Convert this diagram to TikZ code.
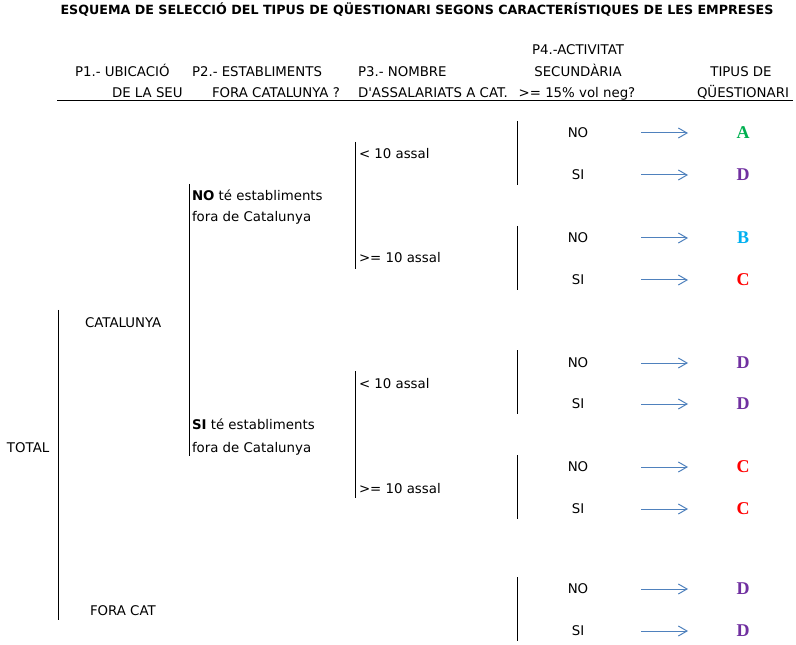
\documentclass[tikz,border=0pt]{standalone}
\usepackage{fontspec}
\newfontfamily\verdfont{DejaVu Sans}
\newfontfamily\tipusfont{Liberation Serif}
\usetikzlibrary{arrows.meta}

\newlength{\du}
\setlength{\du}{0.75pt}

\definecolor{dialinecolor}{rgb}{0.000000, 0.000000, 0.000000}
\definecolor{fletxacolor}{rgb}{0.310000, 0.506000, 0.741000}
\definecolor{tipusAcolor}{rgb}{0.000000, 0.690000, 0.314000}
\definecolor{tipusBcolor}{rgb}{0.000000, 0.690000, 0.941000}
\definecolor{tipusCcolor}{rgb}{1.000000, 0.000000, 0.000000}
\definecolor{tipusDcolor}{rgb}{0.439000, 0.188000, 0.627000}

\tikzset{
  txt/.style={anchor=base west,inner sep=0pt,outer sep=0pt,color=dialinecolor,font=\verdfont\fontsize{10}{12}\selectfont},
  ctxt/.style={txt,anchor=base},
  resp/.style={inner sep=0pt,outer sep=0pt,color=dialinecolor,font=\verdfont\fontsize{10}{12}\selectfont},
  tipus/.style={inner sep=0pt,outer sep=0pt,font=\tipusfont\bfseries\fontsize{13.5}{15}\selectfont},
  ratlla/.style={line width=0.75pt,color=dialinecolor},
  fletxa/.style={line width=0.75pt,color=fletxacolor,-{Straight Barb[length=6.5pt,width=7.5pt]},shorten <=47.25pt,shorten >=41.25pt},
}

\begin{document}
\begin{tikzpicture}
\pgftransformxscale{1.000000}
\pgftransformyscale{-1.000000}
\useasboundingbox (0\du,0\du) rectangle (796\du,645\du);
% title
\node[ctxt,font=\verdfont\bfseries\fontsize{9.5}{11}\selectfont] (titol) at (417\du,15\du){ESQUEMA DE SELECCIÓ DEL TIPUS DE QÜESTIONARI SEGONS CARACTERÍSTIQUES DE LES EMPRESES};
% headers
\node[txt] (p1a) at (75\du,77\du){P1.- UBICACIÓ};
\node[txt] (p1b) at (112\du,98\du){DE LA SEU};
\node[txt] (p2a) at (192\du,77\du){P2.- ESTABLIMENTS};
\node[txt] (p2b) at (212\du,98\du){FORA CATALUNYA ?};
\node[txt] (p3a) at (358\du,77\du){P3.- NOMBRE};
\node[txt] (p3b) at (358\du,98\du){D'ASSALARIATS A CAT.};
\node[ctxt] (p4a) at (578\du,55\du){P4.-ACTIVITAT};
\node[ctxt] (p4b) at (578\du,77\du){SECUNDÀRIA};
\node[ctxt] (p4c) at (577\du,98\du){>= 15\% vol neg?};
\node[ctxt] (p5a) at (741\du,77\du){TIPUS DE};
\node[ctxt] (p5b) at (743\du,98\du){QÜESTIONARI};
\coordinate (capa) at (57\du,101\du);
\coordinate (capb) at (793\du,101\du);
\draw[ratlla] (capa)--(capb);
% P1
\node[txt] (total) at (7\du,452\du){TOTAL};
\coordinate (v1a) at (58\du,310\du);
\coordinate (v1b) at (58\du,620\du);
\draw[ratlla] (v1a)--(v1b);
\node[txt] (cat) at (85\du,328\du){CATALUNYA};
\node[txt] (foracat) at (90\du,615\du){FORA CAT};
% P2
\coordinate (v2a) at (189\du,184\du);
\coordinate (v2b) at (189\du,456\du);
\draw[ratlla] (v2a)--(v2b);
\node[txt] (noest) at (192\du,201\du){\textbf{NO} té establiments};
\node[txt] (noestb) at (192\du,222\du){fora de Catalunya};
\node[txt] (siest) at (192\du,429\du){\textbf{SI} té establiments};
\node[txt] (siestb) at (192\du,452\du){fora de Catalunya};
% P3
\coordinate (v3a) at (355\du,142\du);
\coordinate (v3b) at (355\du,269\du);
\draw[ratlla] (v3a)--(v3b);
\coordinate (v3c) at (355\du,371\du);
\coordinate (v3d) at (355\du,498\du);
\draw[ratlla] (v3c)--(v3d);
\node[txt] (menys1) at (359\du,159\du){< 10 assal};
\node[txt] (mes1) at (359\du,263\du){>= 10 assal};
\node[txt] (menys2) at (359\du,388\du){< 10 assal};
\node[txt] (mes2) at (359\du,493\du){>= 10 assal};
% P4
\coordinate (v4a) at (517\du,121\du);
\coordinate (v4b) at (517\du,185\du);
\draw[ratlla] (v4a)--(v4b);
\coordinate (v4c) at (517\du,226\du);
\coordinate (v4d) at (517\du,290\du);
\draw[ratlla] (v4c)--(v4d);
\coordinate (v4e) at (517\du,350\du);
\coordinate (v4f) at (517\du,414\du);
\draw[ratlla] (v4e)--(v4f);
\coordinate (v4g) at (517\du,455\du);
\coordinate (v4h) at (517\du,519\du);
\draw[ratlla] (v4g)--(v4h);
\coordinate (v4i) at (517\du,577\du);
\coordinate (v4j) at (517\du,641\du);
\draw[ratlla] (v4i)--(v4j);
% answers
\node[resp] (r1) at (578\du,133\du){NO};
\node[resp] (r2) at (578\du,175\du){SI};
\node[resp] (r3) at (578\du,238\du){NO};
\node[resp] (r4) at (578\du,280\du){SI};
\node[resp] (r5) at (578\du,363\du){NO};
\node[resp] (r6) at (578\du,404\du){SI};
\node[resp] (r7) at (578\du,467\du){NO};
\node[resp] (r8) at (578\du,509\du){SI};
\node[resp] (r9) at (578\du,589\du){NO};
\node[resp] (r10) at (578\du,631\du){SI};
% questionnaire types
\node[tipus,color=tipusAcolor] (t1) at (743\du,133\du){A};
\node[tipus,color=tipusDcolor] (t2) at (743\du,175\du){D};
\node[tipus,color=tipusBcolor] (t3) at (743\du,238\du){B};
\node[tipus,color=tipusCcolor] (t4) at (743\du,280\du){C};
\node[tipus,color=tipusDcolor] (t5) at (743\du,363\du){D};
\node[tipus,color=tipusDcolor] (t6) at (743\du,404\du){D};
\node[tipus,color=tipusCcolor] (t7) at (743\du,467\du){C};
\node[tipus,color=tipusCcolor] (t8) at (743\du,509\du){C};
\node[tipus,color=tipusDcolor] (t9) at (743\du,589\du){D};
\node[tipus,color=tipusDcolor] (t10) at (743\du,631\du){D};
% arrows
\draw[fletxa] (r1.center)--(t1.center);
\draw[fletxa] (r2.center)--(t2.center);
\draw[fletxa] (r3.center)--(t3.center);
\draw[fletxa] (r4.center)--(t4.center);
\draw[fletxa] (r5.center)--(t5.center);
\draw[fletxa] (r6.center)--(t6.center);
\draw[fletxa] (r7.center)--(t7.center);
\draw[fletxa] (r8.center)--(t8.center);
\draw[fletxa] (r9.center)--(t9.center);
\draw[fletxa] (r10.center)--(t10.center);
\end{tikzpicture}
\end{document}
